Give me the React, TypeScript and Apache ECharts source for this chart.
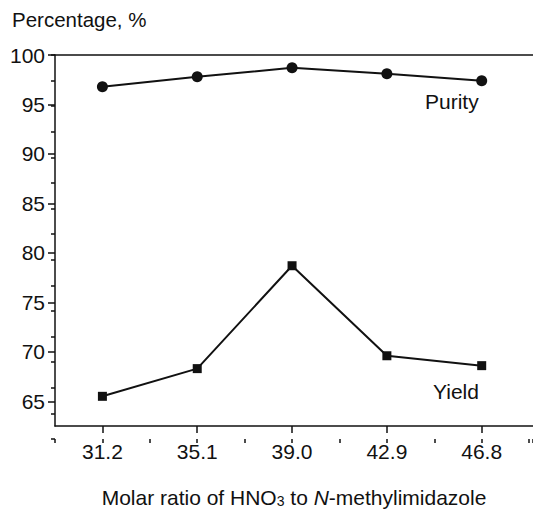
import React, { useEffect, useRef } from "react";
import * as echarts from "echarts";

const ratios = [31.2, 35.1, 39.0, 42.9, 46.8];
const purity = [96.8, 97.8, 98.7, 98.1, 97.4];
const yieldVals = [65.5, 68.3, 78.7, 69.6, 68.6];
const yTicks = [65, 70, 75, 80, 85, 90, 95, 100];

const FONT = "'Liberation Sans', Arial, sans-serif";
const INK = "#111";

export default function App() {
  const ref = useRef<HTMLDivElement>(null);
  useEffect(() => {
    if (!ref.current) return;
    const chart = echarts.init(ref.current, null, { renderer: "svg" });
    const gridRect = { left: 55, top: 55, width: 485, height: 384 };
    const xMin = 29.25;
    const xMax = 48.91;
    const yMin = 62.5;
    const yMax = 100;
    const hidden = {
      axisLine: { show: false },
      axisTick: { show: false },
      axisLabel: { show: false },
      splitLine: { show: false },
    };
    chart.setOption({
      animation: false,
      backgroundColor: "#fff",
      grid: [
        { ...gridRect, show: false },
        { ...gridRect, show: false },
        { ...gridRect, show: false },
      ],
      xAxis: [
        {
          type: "value",
          gridIndex: 0,
          min: xMin,
          max: xMax,
          axisLine: { show: true, lineStyle: { color: INK, width: 1.5 } },
          axisTick: { show: true, customValues: ratios, length: 7, lineStyle: { color: INK, width: 1.5 } },
          axisLabel: {
            customValues: ratios,
            formatter: (v: number) => v.toFixed(1),
            fontSize: 21,
            color: INK,
            fontFamily: FONT,
            margin: 15,
          },
          splitLine: { show: false },
          name: "{a|Molar ratio of HNO}{s|3}{a| to }{i|N}{a|-methylimidazole}",
          nameLocation: "middle",
          nameGap: 56,
          nameTextStyle: {
            rich: {
              a: { fontSize: 21, fontFamily: FONT, color: INK, lineHeight: 26, verticalAlign: "bottom" },
              i: { fontSize: 21, fontFamily: FONT, color: INK, fontStyle: "italic", lineHeight: 26, verticalAlign: "bottom" },
              s: { fontSize: 14, fontFamily: FONT, color: INK, lineHeight: 13, verticalAlign: "bottom" },
            },
          },
        },
        {
          type: "value",
          gridIndex: 1,
          min: xMin,
          max: xMax,
          interval: 1.95,
          axisLine: { show: false },
          axisTick: { show: true, length: 4, lineStyle: { color: INK, width: 1.5 } },
          axisLabel: { show: false },
          splitLine: { show: false },
        },
        {
          type: "value",
          gridIndex: 2,
          position: "top",
          min: xMin,
          max: xMax,
          ...hidden,
          axisLine: { show: true, lineStyle: { color: INK, width: 1.5 } },
        },
      ],
      yAxis: [
        {
          type: "value",
          gridIndex: 0,
          min: yMin,
          max: yMax,
          axisLine: { show: true, lineStyle: { color: INK, width: 1.5 } },
          axisTick: { show: true, customValues: yTicks, length: 7, lineStyle: { color: INK, width: 1.5 } },
          axisLabel: {
            customValues: yTicks,
            fontSize: 21,
            color: INK,
            fontFamily: FONT,
            margin: 10,
          },
          splitLine: { show: false },
        },
        {
          type: "value",
          gridIndex: 1,
          min: yMin,
          max: yMax,
          interval: 2.5,
          axisLine: { show: false },
          axisTick: { show: true, length: 4, lineStyle: { color: INK, width: 1.5 } },
          axisLabel: { show: false },
          splitLine: { show: false },
        },
        {
          type: "value",
          gridIndex: 2,
          min: yMin,
          max: yMax,
          ...hidden,
        },
      ],
      series: [
        {
          name: "Purity",
          type: "line",
          xAxisIndex: 0,
          yAxisIndex: 0,
          data: ratios.map((r, i) => [r, purity[i]]),
          symbol: "circle",
          symbolSize: 11,
          itemStyle: { color: INK },
          lineStyle: { color: INK, width: 2 },
        },
        {
          name: "Yield",
          type: "line",
          xAxisIndex: 0,
          yAxisIndex: 0,
          data: ratios.map((r, i) => [r, yieldVals[i]]),
          symbol: "rect",
          symbolSize: 9,
          itemStyle: { color: INK },
          lineStyle: { color: INK, width: 2 },
        },
      ],
      graphic: [
        {
          type: "text",
          left: 12,
          top: 9,
          style: { text: "Percentage, %", fontSize: 20.5, fontFamily: FONT, fill: INK },
        },
        {
          type: "text",
          left: 425,
          top: 91,
          style: { text: "Purity", fontSize: 21, fontFamily: FONT, fill: INK },
        },
        {
          type: "text",
          left: 433,
          top: 381,
          style: { text: "Yield", fontSize: 21, fontFamily: FONT, fill: INK },
        },
      ],
    });
    return () => chart.dispose();
  }, []);
  return (
    <div
      ref={ref}
      style={{ position: "fixed", left: 0, top: 0, width: 533, height: 513, background: "#fff" }}
    />
  );
}
